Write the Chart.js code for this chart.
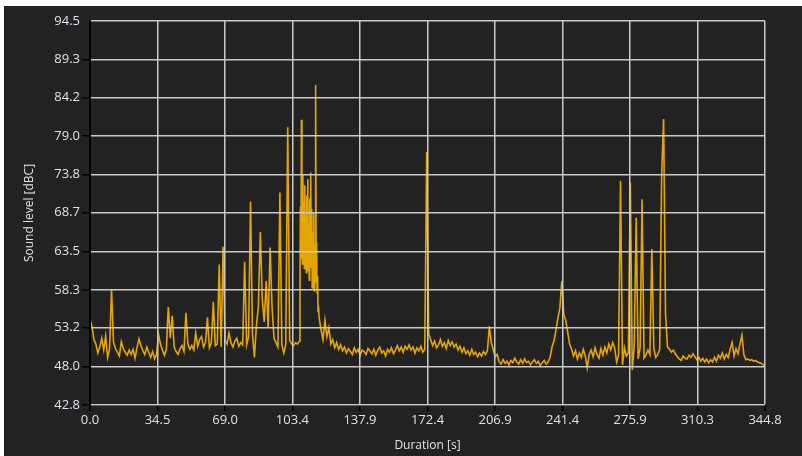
<!DOCTYPE html>
<html>
<head>
<meta charset="utf-8">
<script src="https://cdn.jsdelivr.net/npm/chart.js@4/dist/chart.umd.min.js"></script>
<style>
  html, body { margin: 0; padding: 0; background: #ffffff; }
  #frame { position: absolute; left: 4px; top: 6px; width: 798px; height: 450px; background: #222222; }
  canvas { display: block; }
</style>
</head>
<body>
<div id="frame"><canvas id="chart" width="798" height="450"></canvas></div>
<script>
// Tick values of both axes
const durationTicks = [0.0, 34.5, 69.0, 103.4, 137.9, 172.4, 206.9, 241.4, 275.9, 310.3, 344.8];
const levelTicks = [42.8, 48.0, 53.2, 58.3, 63.5, 68.7, 73.8, 79.0, 84.2, 89.3, 94.5];

// Sound level [dBC], one sample per second, 0 s .. 107 s
const sampleStep = 1;
const levelsStart = [
  54.3, 53.4, 51.6, 51.0, 49.8, 50.6, 51.8, 50.2, 52.1, 49.2,
  50.4, 58.4, 51.3, 50.4, 49.9, 49.4, 51.3, 50.4, 49.9, 49.5,
  50.2, 49.6, 50.3, 49.1, 50.5, 51.7, 50.8, 50.1, 49.6, 50.6,
  49.9, 49.2, 50.0, 49.0, 49.6, 52.3, 51.0, 50.2, 49.5, 50.3,
  56.0, 51.8, 54.8, 50.6, 50.0, 49.6, 50.4, 50.8, 50.0, 55.2,
  51.0, 50.3, 50.8, 50.2, 52.5, 50.7, 51.6, 52.0, 50.6, 51.2,
  54.6, 50.5, 51.2, 56.7, 50.8, 51.0, 61.7, 50.6, 64.1, 51.5,
  51.0, 52.5, 51.2, 50.6, 51.4, 51.8, 50.7, 51.2, 50.9, 62.1,
  50.9, 52.0, 70.2, 52.3, 49.2, 53.5, 56.0, 66.1, 57.0, 54.0,
  59.5, 53.2, 64.0, 55.9, 51.8, 51.2, 50.6, 71.4, 50.9, 49.8,
  51.0, 80.2, 51.5, 51.0, 50.8, 51.2, 51.0, 51.4
];

// Loud burst, four samples per second, 107.25 s .. 116.75 s
const burstStart = 107.25;
const burstStep = 0.25;
const burstLevels = [
  58.0, 69.5, 62.5,
  81.2, 65.5, 61.8, 73.8,
  63.5, 70.2, 61.2, 72.4,
  62.8, 68.4, 60.6, 71.0,
  62.2, 73.2, 60.9, 67.3,
  59.6, 70.6, 61.4, 74.1,
  63.0, 69.2, 58.6, 66.1,
  60.8, 68.7, 58.2, 64.3,
  59.4, 85.9, 61.8, 64.6,
  57.9, 60.2, 55.4, 56.1
];

// One sample per second again, 117 s .. 344 s
const restStart = 117;
const levelsRest = [
  54.6, 53.0, 51.6,
  54.2, 52.0, 53.2, 51.0, 51.6, 50.5, 51.2, 50.3, 50.9, 50.1,
  50.6, 49.8, 50.4, 50.0, 49.6, 50.5, 49.9, 50.3, 49.5, 50.2,
  50.0, 49.6, 50.4, 50.1, 49.7, 50.3, 49.5, 50.2, 50.6, 49.8,
  50.1, 49.4, 50.3, 49.9, 50.5, 49.7, 50.2, 50.8, 50.1, 50.6,
  49.9, 50.7, 50.3, 50.9, 50.2, 50.6, 49.8, 50.5, 50.1, 50.7,
  49.9, 50.3, 76.9, 52.4, 51.6, 50.8, 51.4, 50.5, 50.9, 51.6,
  50.7, 51.2, 50.4, 51.5, 50.8, 51.3, 50.6, 51.0, 50.2, 50.7,
  49.9, 50.5, 49.7, 50.1, 49.5, 50.3, 49.6, 49.9, 49.3, 49.8,
  49.4, 50.0, 49.6, 50.1, 53.4, 51.2, 50.2, 49.3, 49.6, 48.6,
  48.3, 48.9, 48.4, 48.7, 48.2, 48.8, 48.5, 49.1, 48.6, 48.3,
  48.9, 48.4, 49.0, 48.5, 48.7, 48.2, 48.6, 48.9, 48.4, 48.7,
  48.1, 48.5, 48.8, 48.3, 48.6, 49.2, 50.6, 51.4, 52.8, 54.5,
  55.8, 59.5, 55.0, 54.2, 52.6, 51.0, 50.3, 49.4, 50.1, 49.0,
  49.8, 49.2, 50.3, 49.4, 47.8, 49.6, 50.2, 49.3, 50.5, 49.6,
  49.1, 50.4, 49.5, 50.6, 49.8, 51.0, 50.2, 51.2, 50.5, 48.6,
  49.5, 73.0, 48.2, 50.5, 49.4, 49.8, 72.8, 47.5, 50.8, 68.0,
  49.0, 50.5, 70.5, 49.1, 49.5, 50.2, 49.6, 63.8, 50.4, 49.2,
  49.6, 50.3, 73.6, 81.3, 55.0, 50.6, 50.3, 49.9, 50.2, 49.7,
  49.3, 49.0, 48.8, 49.4, 49.1, 49.0, 49.5, 49.2, 49.7, 49.3,
  48.9, 49.2, 48.7, 49.1, 48.6, 49.0, 48.5, 48.9, 48.6, 49.2,
  48.7, 49.5, 49.1, 49.8, 49.0, 49.6, 49.2, 50.3, 51.2, 49.4,
  50.4, 49.7, 51.0, 52.2, 49.6, 48.9, 49.0, 48.8, 48.9, 48.7,
  48.8, 48.6, 48.5, 48.4, 48.2
];

// Last sample of the recording
const endSecond = 344.8;
const endLevel = 48.0;

// Assemble (time, level) pairs for the line
const samples = [];
levelsStart.forEach((v, i) => samples.push({ x: i * sampleStep, y: v }));
burstLevels.forEach((v, i) => samples.push({ x: burstStart + i * burstStep, y: v }));
levelsRest.forEach((v, i) => samples.push({ x: restStart + i * sampleStep, y: v }));
samples.push({ x: endSecond, y: endLevel });

const labelColor = '#dde3ea';
const tickFont = { family: 'Open Sans', size: 13 };
const titleFont = { family: 'Open Sans', size: 12 };
const gridColor = '#c9c9c9';

new Chart(document.getElementById('chart'), {
  type: 'line',
  data: {
    datasets: [{
      data: samples,
      borderColor: '#e6a600',
      borderWidth: 1.6,
      pointRadius: 0,
      tension: 0,
      fill: false
    }]
  },
  options: {
    responsive: false,
    devicePixelRatio: 1,
    animation: false,
    parsing: false,
    layout: { padding: { left: 0, top: 15, right: 37, bottom: 0 } },
    plugins: { legend: { display: false }, tooltip: { enabled: false } },
    scales: {
      x: {
        type: 'linear',
        min: 0,
        max: 344.8,
        afterBuildTicks: (s) => { s.ticks = durationTicks.map(v => ({ value: v })); },
        afterFit: (s) => { s.height = 51; },
        ticks: {
          color: labelColor, font: tickFont, padding: 1,
          maxRotation: 0, autoSkip: false,
          callback: (v) => Number(v).toFixed(1)
        },
        grid: { z: 1, color: gridColor, lineWidth: 1.5, tickColor: '#000000', tickLength: 6, tickWidth: 1.5 },
        border: { z: 1, color: '#000000', width: 2 },
        title: { display: true, text: 'Duration [s]', color: '#e4e4e4', font: titleFont, padding: { top: 0, bottom: 3 } }
      },
      y: {
        type: 'linear',
        min: 42.8,
        max: 94.5,
        afterBuildTicks: (s) => { s.ticks = levelTicks.map(v => ({ value: v })); },
        afterFit: (s) => { s.width = 86; },
        ticks: {
          color: labelColor, font: tickFont, padding: 2, autoSkip: false,
          callback: (v) => Number(v).toFixed(1)
        },
        grid: {
          z: 1, color: gridColor, lineWidth: 1.5, tickLength: 8, tickWidth: 1.5,
          tickColor: (c) => (c.index === levelTicks.length - 1 ? 'rgba(0,0,0,0)' : '#000000')
        },
        border: { z: 1, color: '#000000', width: 2 },
        title: { display: true, text: 'Sound level [dBC]', color: '#e4e4e4', font: titleFont, padding: { top: 18, bottom: 0 } }
      }
    }
  }
});
</script>
</body>
</html>
